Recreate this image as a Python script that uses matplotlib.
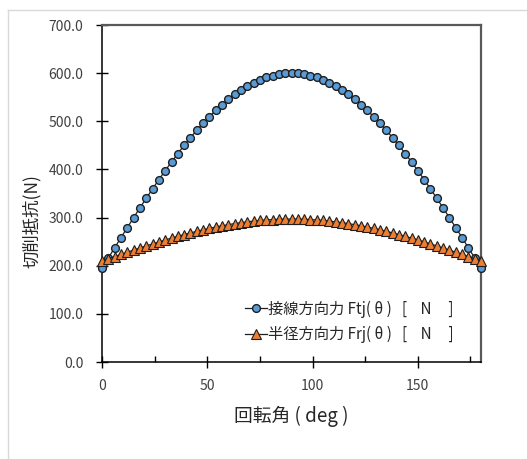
import matplotlib
matplotlib.use("Agg")
import matplotlib.pyplot as plt
from matplotlib.lines import Line2D
from matplotlib.ticker import MultipleLocator, FormatStrFormatter

plt.rcParams['font.family'] = ['Noto Sans CJK JP', 'DejaVu Sans']

# rotation angle (deg), one sample every 3 deg
angle = list(range(0, 181, 3))

# tangential force Ftj (N)
ftj_half = [195.0, 216.2, 237.3, 258.4, 279.2, 299.8, 320.2, 340.1, 359.7, 378.9,
            397.5, 415.6, 433.1, 449.9, 466.0, 481.4, 496.0, 509.7, 522.7, 534.7,
            545.7, 555.9, 565.0, 573.1, 580.2, 586.2, 591.2, 595.0, 597.8, 599.4,
            600.0]
# radial force Frj (N)
frj_half = [210.0, 214.6, 219.1, 223.6, 228.1, 232.5, 236.9, 241.2, 245.4, 249.5,
            253.5, 257.4, 261.1, 264.8, 268.2, 271.5, 274.7, 277.6, 280.4, 283.0,
            285.3, 287.5, 289.5, 291.2, 292.7, 294.0, 295.1, 295.9, 296.5, 296.9,
            297.0]
# curves are symmetric about 90 deg
ftj = ftj_half + ftj_half[-2::-1]
frj = frj_half + frj_half[-2::-1]

label_ftj = '接線方向力 Ftj( θ )   [    N     ]'
label_frj = '半径方向力 Frj( θ )   [    N     ]'

fig = plt.figure(figsize=(5.27, 4.59), dpi=100)
ax = fig.add_axes([0.1936, 0.2113, 0.7191, 0.7342])

# light chart-area border (top and left only are visible)
fig.add_artist(Line2D([8 / 527, 1.0], [1 - 9.5 / 459, 1 - 9.5 / 459],
                      color='#d9d9d9', lw=1.0, transform=fig.transFigure))
fig.add_artist(Line2D([8 / 527, 8 / 527], [0.0, 1 - 9.5 / 459],
                      color='#d9d9d9', lw=1.0, transform=fig.transFigure))

ax.plot(angle, ftj, color='#1f1f1f', lw=0.9, marker='o', ms=5.6,
        mfc='#5b9bd5', mec='#1f1f1f', mew=1.0, clip_on=False, zorder=3,
        label=label_ftj)
ax.plot(angle, frj, color='#1f1f1f', lw=0.9, marker='^', ms=6.6,
        mfc='#ed7d31', mec='#1f1f1f', mew=0.8, clip_on=False, zorder=4,
        label=label_frj)

ax.set_xlim(0, 180)
ax.set_ylim(0, 700)
ax.xaxis.set_major_locator(MultipleLocator(50))
ax.xaxis.set_minor_locator(MultipleLocator(25))
ax.yaxis.set_major_locator(MultipleLocator(100))
ax.yaxis.set_major_formatter(FormatStrFormatter('%.1f'))

ax.tick_params(axis='both', which='major', direction='inout', length=9,
               width=1.0, labelsize=10, colors='#000000', labelcolor='#404040')
ax.tick_params(axis='x', which='major', pad=8)
ax.tick_params(axis='y', which='major', pad=9)
ax.tick_params(axis='x', which='minor', direction='in', length=4.5, width=1.0)

for side in ['left', 'bottom']:
    ax.spines[side].set_color('#000000')
    ax.spines[side].set_linewidth(1.1)
for side in ['top', 'right']:
    ax.spines[side].set_color('#595959')
    ax.spines[side].set_linewidth(1.6)

ax.set_xlabel('回転角 ( deg )', fontsize=13.5, color='#262626', labelpad=9)
ax.set_ylabel('切削抵抗(N)', fontsize=12.5, color='#262626')
ax.yaxis.set_label_coords(-0.16, 0.418)

ax.legend(loc='lower right', bbox_to_anchor=(0.965, 0.015), frameon=False,
          fontsize=11, handlelength=1.45, handletextpad=0.1, labelspacing=0.55,
          labelcolor='#262626')

fig.savefig('out.png', dpi=100)
